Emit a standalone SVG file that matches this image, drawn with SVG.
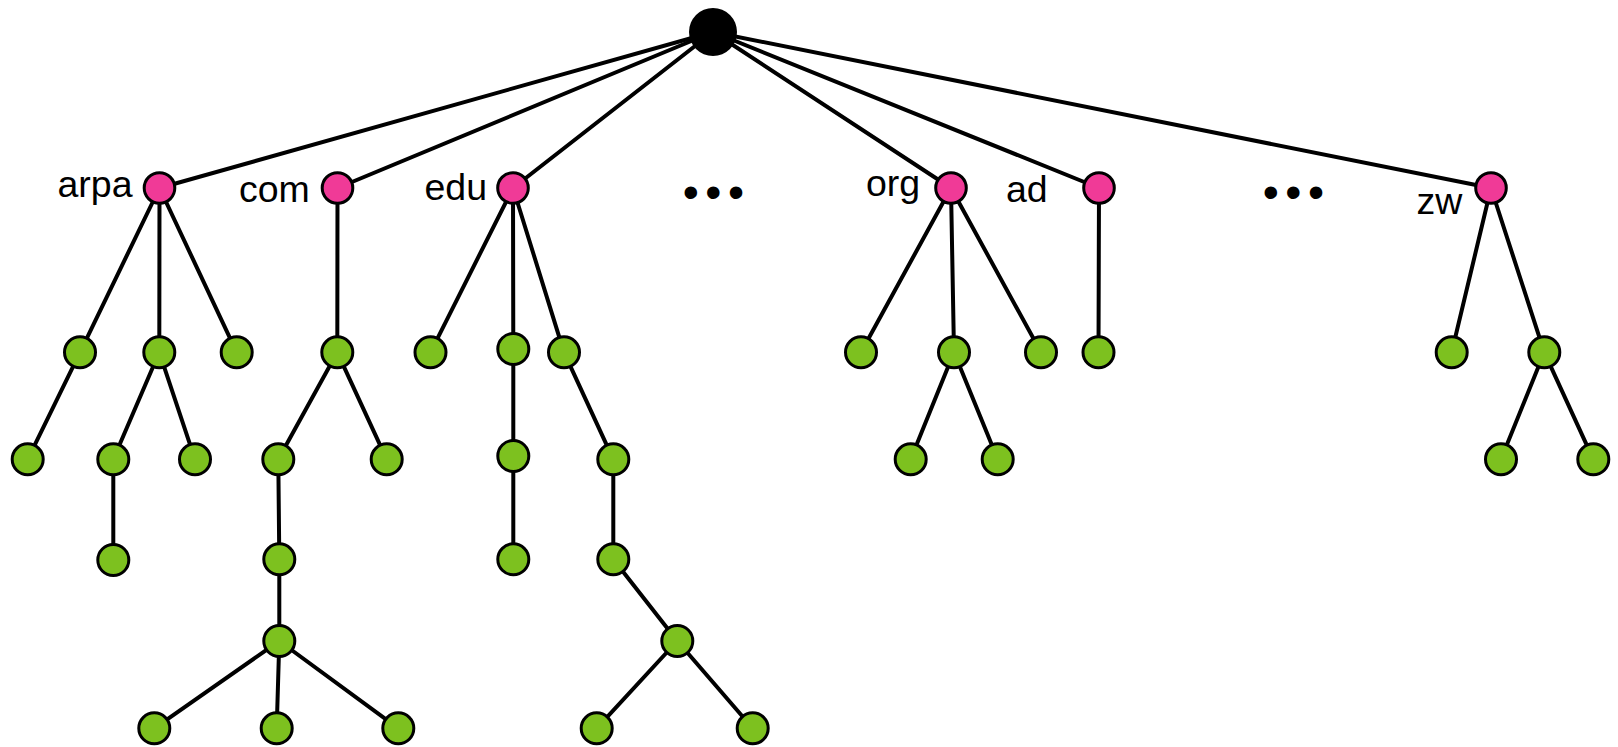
<svg xmlns="http://www.w3.org/2000/svg" width="1618" height="747" viewBox="0 0 1618 747">
<style>
.e{stroke:#000;stroke-width:4;stroke-linecap:round;fill:none}
.p{fill:#F03A97;stroke:#000;stroke-width:3}
.g{fill:#7DC11F;stroke:#000;stroke-width:3}
.r{fill:#000}
.t{font-family:"Liberation Sans",Arial,sans-serif;font-size:37.5px;fill:#000}
.d{font-family:"Liberation Sans",Arial,sans-serif;font-size:46px;fill:#000;text-anchor:middle}
</style>
<rect width="1618" height="747" fill="#fff"/>
<g id="connectors" class="e">
<line x1="713" y1="32" x2="159.5" y2="188"/>
<line x1="713" y1="32" x2="337.5" y2="188"/>
<line x1="713" y1="32" x2="513" y2="188"/>
<line x1="713" y1="32" x2="951" y2="188"/>
<line x1="713" y1="32" x2="1099" y2="188"/>
<line x1="713" y1="32" x2="1491" y2="188"/>
<line x1="159.5" y1="188" x2="80" y2="352.3"/>
<line x1="159.5" y1="188" x2="159.3" y2="352.3"/>
<line x1="159.5" y1="188" x2="236.7" y2="352.3"/>
<line x1="80" y1="352.3" x2="27.7" y2="459.3"/>
<line x1="159.3" y1="352.3" x2="113.3" y2="459.3"/>
<line x1="159.3" y1="352.3" x2="195" y2="459.3"/>
<line x1="113.3" y1="459.3" x2="113.3" y2="560"/>
<line x1="337.5" y1="188" x2="337.3" y2="352.3"/>
<line x1="337.3" y1="352.3" x2="278.3" y2="459.3"/>
<line x1="337.3" y1="352.3" x2="386.7" y2="459.3"/>
<line x1="278.3" y1="459.3" x2="279.3" y2="559.3"/>
<line x1="279.3" y1="559.3" x2="279.3" y2="641"/>
<line x1="279.3" y1="641" x2="154.3" y2="728.3"/>
<line x1="279.3" y1="641" x2="276.7" y2="728.3"/>
<line x1="279.3" y1="641" x2="398.3" y2="728.3"/>
<line x1="513" y1="188" x2="430.5" y2="352.3"/>
<line x1="513" y1="188" x2="513.3" y2="349"/>
<line x1="513" y1="188" x2="564" y2="352.3"/>
<line x1="513.3" y1="349" x2="513.3" y2="456"/>
<line x1="513.3" y1="456" x2="513.3" y2="559.3"/>
<line x1="564" y1="352.3" x2="613.3" y2="459.3"/>
<line x1="613.3" y1="459.3" x2="613.3" y2="559.3"/>
<line x1="613.3" y1="559.3" x2="677.3" y2="641"/>
<line x1="677.3" y1="641" x2="596.7" y2="728.3"/>
<line x1="677.3" y1="641" x2="752.7" y2="728.3"/>
<line x1="951" y1="188" x2="861" y2="352.3"/>
<line x1="951" y1="188" x2="954" y2="352.3"/>
<line x1="951" y1="188" x2="1041" y2="352.3"/>
<line x1="954" y1="352.3" x2="910.7" y2="459.3"/>
<line x1="954" y1="352.3" x2="997.7" y2="459.3"/>
<line x1="1099" y1="188" x2="1098.5" y2="352.3"/>
<line x1="1491" y1="188" x2="1451.7" y2="352.3"/>
<line x1="1491" y1="188" x2="1544.3" y2="352.3"/>
<line x1="1544.3" y1="352.3" x2="1501" y2="459.3"/>
<line x1="1544.3" y1="352.3" x2="1593.3" y2="459.3"/>
</g>
<g id="root"><circle class="r" cx="713" cy="32" r="24"/></g>
<g id="arpa"><circle class="p" cx="159.5" cy="188" r="15.3"/><text class="t" x="57.5" y="197">arpa</text></g>
<g id="com"><circle class="p" cx="337.5" cy="188" r="15.3"/><text class="t" x="239" y="202">com</text></g>
<g id="edu"><circle class="p" cx="513" cy="188" r="15.3"/><text class="t" x="424.5" y="200">edu</text></g>
<g id="org"><circle class="p" cx="951" cy="188" r="15.3"/><text class="t" x="866" y="196">org</text></g>
<g id="ad"><circle class="p" cx="1099" cy="188" r="15.3"/><text class="t" x="1006" y="202">ad</text></g>
<g id="zw"><circle class="p" cx="1491" cy="188" r="15.3"/><text class="t" x="1416.5" y="214">zw</text></g>
<g id="ellipsis1"><text class="d" x="690.7 713.4 736" y="207.5">•••</text></g>
<g id="ellipsis2"><text class="d" x="1270.7 1293.3 1316" y="207.5">•••</text></g>
<g id="arpa-children">
<circle class="g" cx="80" cy="352.3" r="15.5"/>
<circle class="g" cx="159.3" cy="352.3" r="15.5"/>
<circle class="g" cx="236.7" cy="352.3" r="15.5"/>
<circle class="g" cx="27.7" cy="459.3" r="15.5"/>
<circle class="g" cx="113.3" cy="459.3" r="15.5"/>
<circle class="g" cx="195" cy="459.3" r="15.5"/>
<circle class="g" cx="113.3" cy="560" r="15.5"/>
</g>
<g id="com-children">
<circle class="g" cx="337.3" cy="352.3" r="15.5"/>
<circle class="g" cx="278.3" cy="459.3" r="15.5"/>
<circle class="g" cx="386.7" cy="459.3" r="15.5"/>
<circle class="g" cx="279.3" cy="559.3" r="15.5"/>
<circle class="g" cx="279.3" cy="641" r="15.5"/>
<circle class="g" cx="154.3" cy="728.3" r="15.5"/>
<circle class="g" cx="276.7" cy="728.3" r="15.5"/>
<circle class="g" cx="398.3" cy="728.3" r="15.5"/>
</g>
<g id="edu-children">
<circle class="g" cx="430.5" cy="352.3" r="15.5"/>
<circle class="g" cx="513.3" cy="349" r="15.5"/>
<circle class="g" cx="564" cy="352.3" r="15.5"/>
<circle class="g" cx="513.3" cy="456" r="15.5"/>
<circle class="g" cx="613.3" cy="459.3" r="15.5"/>
<circle class="g" cx="513.3" cy="559.3" r="15.5"/>
<circle class="g" cx="613.3" cy="559.3" r="15.5"/>
<circle class="g" cx="677.3" cy="641" r="15.5"/>
<circle class="g" cx="596.7" cy="728.3" r="15.5"/>
<circle class="g" cx="752.7" cy="728.3" r="15.5"/>
</g>
<g id="org-children">
<circle class="g" cx="861" cy="352.3" r="15.5"/>
<circle class="g" cx="954" cy="352.3" r="15.5"/>
<circle class="g" cx="1041" cy="352.3" r="15.5"/>
<circle class="g" cx="910.7" cy="459.3" r="15.5"/>
<circle class="g" cx="997.7" cy="459.3" r="15.5"/>
</g>
<g id="ad-children">
<circle class="g" cx="1098.5" cy="352.3" r="15.5"/>
</g>
<g id="zw-children">
<circle class="g" cx="1451.7" cy="352.3" r="15.5"/>
<circle class="g" cx="1544.3" cy="352.3" r="15.5"/>
<circle class="g" cx="1501" cy="459.3" r="15.5"/>
<circle class="g" cx="1593.3" cy="459.3" r="15.5"/>
</g>
</svg>
